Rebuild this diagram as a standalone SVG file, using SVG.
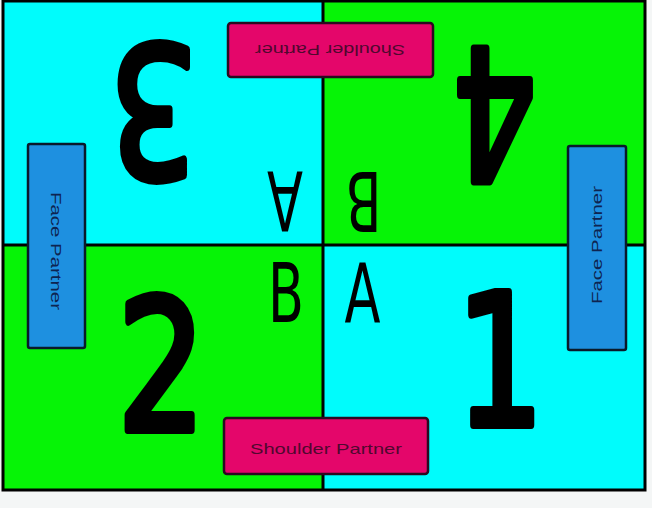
<svg xmlns="http://www.w3.org/2000/svg" width="652" height="508" viewBox="0 0 652 508">
<style>
.cy{fill:#00fcfc}
.gr{fill:#06f406}
.line{stroke:#000;stroke-width:3;fill:none}
.pink{fill:#e4066a;stroke:#2a0a20;stroke-width:2.5}
.blue{fill:#1e90e0;stroke:#0a1a2a;stroke-width:2.5}
.num{font-family:"DejaVu Sans","Liberation Sans",sans-serif;font-size:182px;fill:#000;stroke:#000;stroke-width:8;stroke-linejoin:round;stroke-linecap:round;text-anchor:middle}
.let{font-family:"DejaVu Sans","Liberation Sans",sans-serif;font-size:82px;fill:#000;text-anchor:middle}
.plab{font-family:"Liberation Sans","DejaVu Sans",sans-serif;font-size:15px;fill:#50082f;text-anchor:middle}
.blab{font-family:"Liberation Sans","DejaVu Sans",sans-serif;font-size:14px;fill:#0e2450;text-anchor:middle}
</style>
<rect x="0" y="0" width="652" height="508" fill="#f4f6f6"/>
<g id="quadrants">
<rect class="cy" x="3" y="1" width="320" height="244"/>
<rect class="gr" x="323" y="1" width="322" height="244"/>
<rect class="gr" x="3" y="245" width="320" height="245"/>
<rect class="cy" x="323" y="245" width="322" height="245"/>
<rect class="line" x="3" y="1" width="642" height="489"/>
<line class="line" x1="323" y1="1" x2="323" y2="490"/>
<line class="line" x1="3" y1="245" x2="645" y2="245"/>
</g>
<g id="num3"><text class="num" x="153.5" y="180" textLength="88" lengthAdjust="spacingAndGlyphs" transform="rotate(180 153.5 113)">3</text></g>
<g id="num4"><text class="num" x="494.5" y="183" textLength="84" lengthAdjust="spacingAndGlyphs" transform="rotate(180 494.5 116)">4</text></g>
<g id="num2"><text class="num" x="161.5" y="430" textLength="88" lengthAdjust="spacingAndGlyphs">2</text></g>
<g id="num1"><text class="num" x="500" y="425" textLength="88" lengthAdjust="spacingAndGlyphs">1</text></g>
<g id="letA-top"><text class="let" x="285" y="232" textLength="36" lengthAdjust="spacingAndGlyphs" transform="rotate(180 285 202)">A</text></g>
<g id="letB-top"><text class="let" x="363.5" y="232" textLength="36" lengthAdjust="spacingAndGlyphs" transform="rotate(180 363.5 202)">B</text></g>
<g id="letB-bottom"><text class="let" x="286" y="322" textLength="36" lengthAdjust="spacingAndGlyphs">B</text></g>
<g id="letA-bottom"><text class="let" x="362.5" y="322" textLength="36" lengthAdjust="spacingAndGlyphs">A</text></g>
<g id="shoulder-top">
<rect class="pink" x="228" y="23" width="205" height="54" rx="3"/>
<text class="plab" x="330" y="55" textLength="150" lengthAdjust="spacingAndGlyphs" transform="rotate(180 330 50)">Shoulder Partner</text>
</g>
<g id="shoulder-bottom">
<rect class="pink" x="224" y="418" width="204" height="56" rx="3"/>
<text class="plab" x="326" y="454" textLength="152" lengthAdjust="spacingAndGlyphs">Shoulder Partner</text>
</g>
<g id="face-left">
<rect class="blue" x="28" y="144" width="57" height="204" rx="2"/>
<text class="blab" x="56" y="256" textLength="118" lengthAdjust="spacingAndGlyphs" transform="rotate(90 56 251)">Face Partner</text>
</g>
<g id="face-right">
<rect class="blue" x="568" y="146" width="58" height="204" rx="2"/>
<text class="blab" x="597" y="250" textLength="118" lengthAdjust="spacingAndGlyphs" transform="rotate(-90 597 245)">Face Partner</text>
</g>
</svg>
